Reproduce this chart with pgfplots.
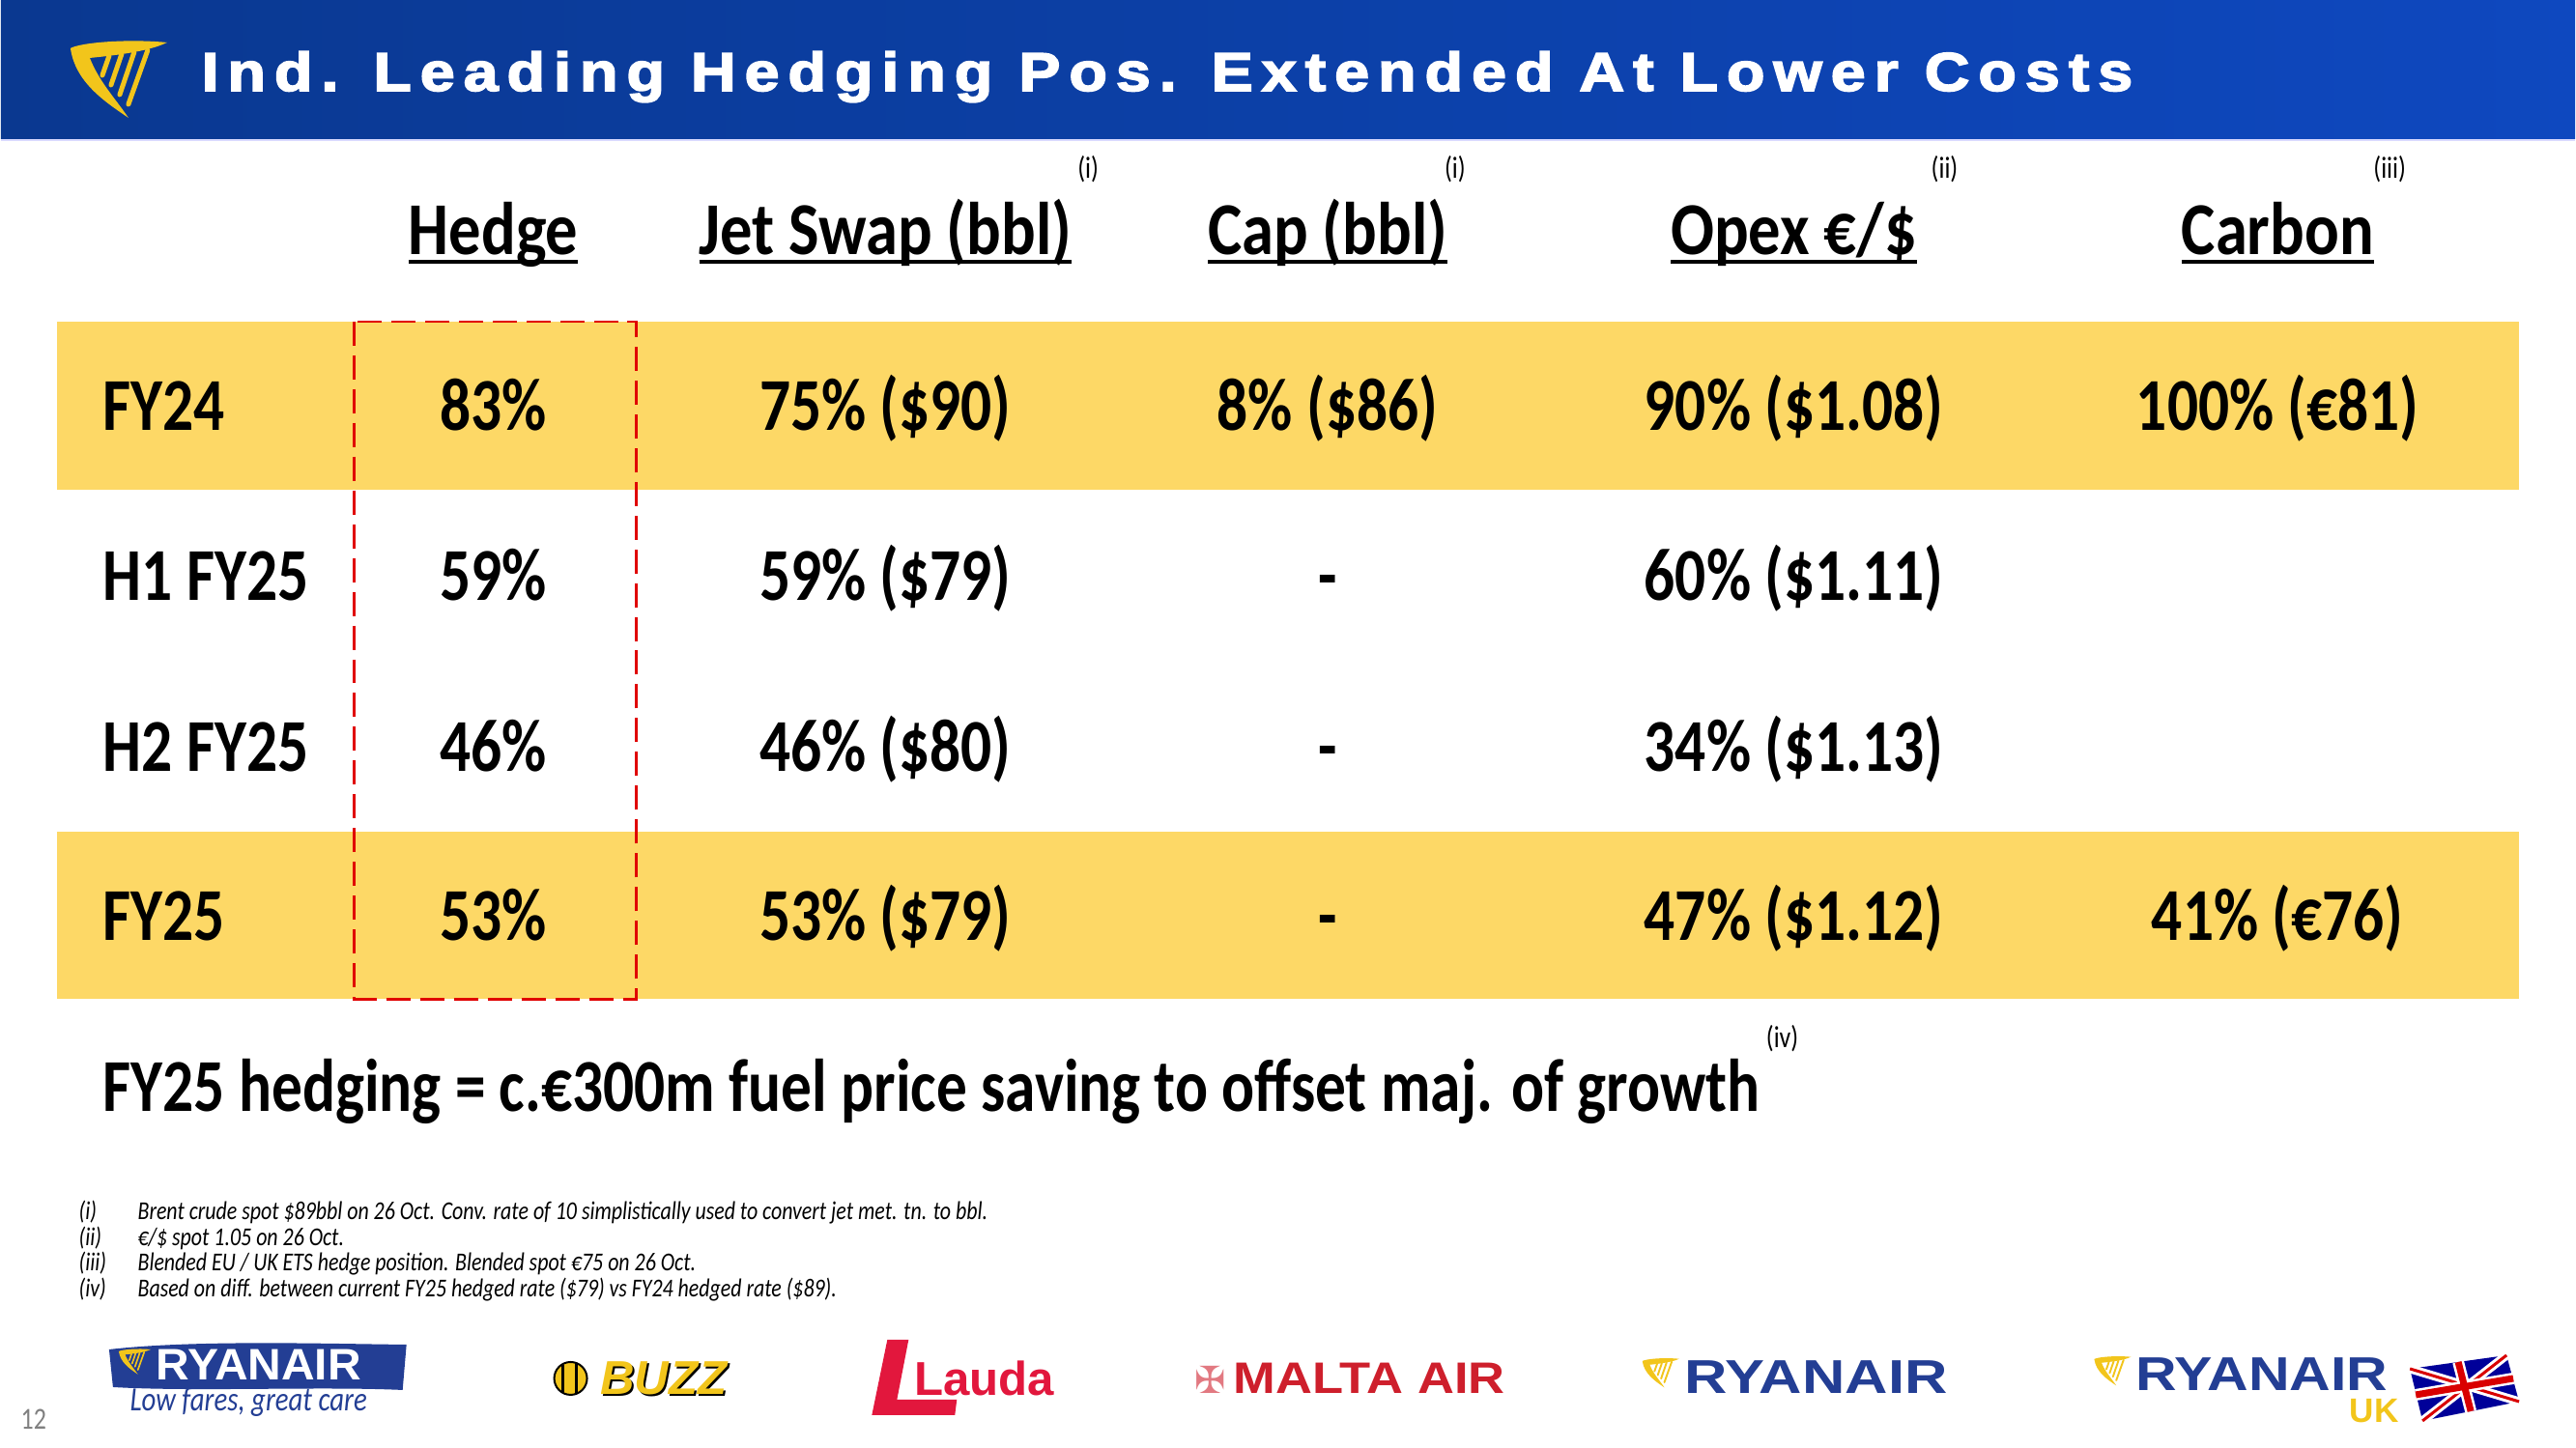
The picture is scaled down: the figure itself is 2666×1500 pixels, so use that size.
\documentclass[border=0pt]{standalone}
\usepackage{pgfplots}
\pgfplotsset{compat=1.18}
\usepackage{fontspec}
\setmainfont{Carlito}[FakeStretch=0.82]
\newfontfamily\titlefont{Liberation Sans Bold}[LetterSpace=16,FakeBold=3,FakeStretch=1.15]
\newfontfamily\logofont{Liberation Sans Bold}
\newfontfamily\symfont{DejaVu Sans}
\definecolor{ryblue}{HTML}{0A3890}
\definecolor{ryblue2}{HTML}{0E48BF}
\definecolor{band}{HTML}{FDD866}
\definecolor{dashred}{HTML}{E00000}
\definecolor{logoblue}{HTML}{233E94}
\definecolor{logoyel}{HTML}{F2C51B}
\definecolor{laudared}{HTML}{E2173D}
\definecolor{maltared}{HTML}{CE1F2C}
\newcommand\ul[1]{\setbox0=\hbox{#1}\rlap{\rule[-0.12em]{\wd0}{0.055em}}\box0}
\newcommand\hdr[2]{\node[anchor=base,inner sep=0pt] at (#1,264) {\fontsize{22}{26}\selectfont\bfseries\scalebox{1.05}[1]{\ul{#2}}};}
\newcommand\supnote[2]{\node[inner sep=0pt] at (#1) {\fontsize{9}{10}\selectfont #2};}
\newcommand\fn[3]{\node[anchor=base west,inner sep=0pt] at (80,#1) {\fontsize{7.6}{8}\selectfont\itshape #2};
  \node[anchor=base west,inner sep=0pt] at (141,#1) {\fontsize{7.6}{8}\selectfont\itshape #3};}
\newcommand\harp[3]{% x y scale
  \fill[logoyel] (#1,#2) .. controls (#1+10*#3,#2-6*#3) and (#1+60*#3,#2-10*#3) .. (#1+100*#3,#2-6*#3)
     .. controls (#1+80*#3,#2+4*#3) and (#1+40*#3,#2+8*#3) .. (#1+20*#3,#2+10*#3)
     .. controls (#1+30*#3,#2+35*#3) and (#1+45*#3,#2+50*#3) .. (#1+60*#3,#2+72*#3)
     .. controls (#1+35*#3,#2+55*#3) and (#1+5*#3,#2+35*#3) .. (#1,#2) -- cycle;
  \draw[logoyel,line width=#3*0.05cm,line cap=round] (#1+40*#3,#2+8*#3) -- (#1+33*#3,#2+28*#3);
  \draw[logoyel,line width=#3*0.05cm,line cap=round] (#1+53*#3,#2+6*#3) -- (#1+42*#3,#2+38*#3);
  \draw[logoyel,line width=#3*0.05cm,line cap=round] (#1+66*#3,#2+4*#3) -- (#1+51*#3,#2+48*#3);
  \draw[logoyel,line width=#3*0.05cm,line cap=round] (#1+80*#3,#2+2*#3) -- (#1+60*#3,#2+58*#3);
}
\begin{document}
\begin{tikzpicture}
\begin{axis}[width=26.66cm,height=15cm,scale only axis,
  xmin=0,xmax=2666,ymin=0,ymax=1500,y dir=reverse,
  hide axis,clip=false]
% background and title bar
\fill[white] (0,0) rectangle (2666,1500);
\shade[left color=ryblue,right color=ryblue2] (0,0) rectangle (2666,144);
\draw[line width=0.02cm,color=blue!15] (0,145) -- (2666,145);
\harp{72}{50}{1.0}
\node[anchor=base west,inner sep=0pt,text=white] at (207,94)
  {\titlefont\fontsize{16}{18}\selectfont Ind. Leading Hedging Pos. Extended At Lower Costs};
% bands
\fill[band] (58,333) rectangle (2608,507);
\fill[band] (58,862) rectangle (2608,1035);
% headers
\hdr{510}{Hedge}
\hdr{916}{Jet Swap (bbl)}
\hdr{1374}{Cap (bbl)}
\hdr{1857}{Opex €/\$}
\hdr{2358}{Carbon}
\supnote{1126,175}{(i)}
\supnote{1506,175}{(i)}
\supnote{2013,175}{(ii)}
\supnote{2474,175}{(iii)}
% row labels
\addplot[draw=none,mark=none,nodes near coords,point meta=explicit symbolic,
  every node near coord/.append style={anchor=base west,inner sep=0pt,font=\fontsize{22}{26}\selectfont\bfseries}]
  coordinates {(105,446) [FY24] (105,622) [H1 FY25] (105,799) [H2 FY25] (105,974) [FY25]};
% cell values
\addplot[draw=none,mark=none,nodes near coords,point meta=explicit symbolic,
  every node near coord/.append style={anchor=base,inner sep=0pt,font=\fontsize{22}{26}\selectfont\bfseries}]
  coordinates {
  (510,446) [83\%] (510,622) [59\%] (510,799) [46\%] (510,974) [53\%]
  (916,446) [75\% (\$90)] (916,622) [59\% (\$79)] (916,799) [46\% (\$80)] (916,974) [53\% (\$79)]
  (1374,446) [8\% (\$86)] (1374,622) [-] (1374,799) [-] (1374,974) [-]
  (1857,446) [90\% (\$1.08)] (1857,622) [60\% (\$1.11)] (1857,799) [34\% (\$1.13)] (1857,974) [47\% (\$1.12)]
  (2358,446) [100\% (€81)] (2358,974) [41\% (€76)]
  };
% dashed box
\draw[dashred,line width=0.025cm,dash pattern=on 0.25cm off 0.1cm] (366,333) rectangle (658,1035);
% statement
\node[anchor=base west,inner sep=0pt] at (105,1151)
  {\fontsize{22}{26}\selectfont\bfseries FY25 hedging = c.€300m fuel price saving to offset maj. of growth};
\supnote{1845,1076}{(iv)}
% footnotes
\fn{1263}{(i)}{Brent crude spot \$89bbl on 26 Oct. Conv. rate of 10 simplistically used to convert jet met. tn. to bbl.}
\fn{1290}{(ii)}{€/\$ spot 1.05 on 26 Oct.}
\fn{1316}{(iii)}{Blended EU / UK ETS hedge position. Blended spot €75 on 26 Oct.}
\fn{1343}{(iv)}{Based on diff. between current FY25 hedged rate (\$79) vs FY24 hedged rate (\$89).}
% page number
\node[anchor=base west,inner sep=0pt,text=gray] at (20,1481) {\fontsize{9}{10}\selectfont 12};
% logo 1: Ryanair brush
\fill[logoblue] (112,1398) .. controls (200,1388) and (330,1392) .. (420,1393) -- (416,1440)
   .. controls (330,1436) and (200,1442) .. (116,1437) -- cycle;
\harp{122}{1400}{0.33}
\node[anchor=base west,inner sep=0pt,text=white] at (160,1430) {\logofont\fontsize{13}{14}\selectfont\scalebox{1.05}[1]{RYANAIR}};
\node[anchor=base west,inner sep=0pt,text=logoblue] at (133,1462) {\fontsize{10}{11}\selectfont\itshape Low fares, great care};
% logo 2: Buzz
\fill[logoyel,draw=black,line width=0.02cm] (590,1428) circle (0.17cm);
\draw[black,line width=0.03cm] (582,1414) -- (582,1442) (596,1412) -- (596,1444);
\node[anchor=west,inner sep=0pt,text=black] at (622,1430) {\logofont\fontsize{14}{16}\selectfont\itshape BUZZ};
\node[anchor=west,inner sep=0pt,text=logoyel] at (620,1428) {\logofont\fontsize{14}{16}\selectfont\itshape BUZZ};
% logo 3: Lauda
\fill[laudared] (918,1388) -- (940,1388) -- (928,1450) -- (990,1450) -- (988,1466) -- (902,1466) -- cycle;
\node[anchor=west,inner sep=0pt,text=laudared] at (945,1428) {\logofont\fontsize{14}{16}\selectfont Lauda};
% logo 4: Malta Air
\node[anchor=west,inner sep=0pt,text=maltared!60] at (1236,1429) {\symfont\fontsize{11}{12}\selectfont ✠};
\node[anchor=west,inner sep=0pt,text=maltared] at (1276,1428) {\logofont\fontsize{13}{14}\selectfont\scalebox{1.15}[1]{MALTA AIR}};
% logo 5: Ryanair
\harp{1700}{1410}{0.38}
\node[anchor=west,inner sep=0pt,text=logoblue] at (1743,1427) {\logofont\fontsize{14}{16}\selectfont\scalebox{1.25}[1]{RYANAIR}};
% logo 6: Ryanair UK
\harp{2168}{1408}{0.38}
\node[anchor=west,inner sep=0pt,text=logoblue] at (2210,1424) {\logofont\fontsize{14}{16}\selectfont\scalebox{1.2}[1]{RYANAIR}};
\node[anchor=base west,inner sep=0pt,text=logoyel] at (2432,1474) {\logofont\fontsize{10}{11}\selectfont UK};
\fill[blue!60!black] (2495,1418) -- (2595,1404) -- (2608,1452) -- (2508,1472) -- cycle;
\draw[white,line width=0.09cm] (2495,1418) -- (2608,1452) (2595,1404) -- (2508,1472);
\draw[red!85!black,line width=0.03cm] (2495,1418) -- (2608,1452) (2595,1404) -- (2508,1472);
\draw[white,line width=0.12cm] (2545,1411) -- (2558,1462) (2501,1445) -- (2602,1428);
\draw[red!85!black,line width=0.07cm] (2545,1411) -- (2558,1462) (2501,1445) -- (2602,1428);
\end{axis}
\end{tikzpicture}
\end{document}
